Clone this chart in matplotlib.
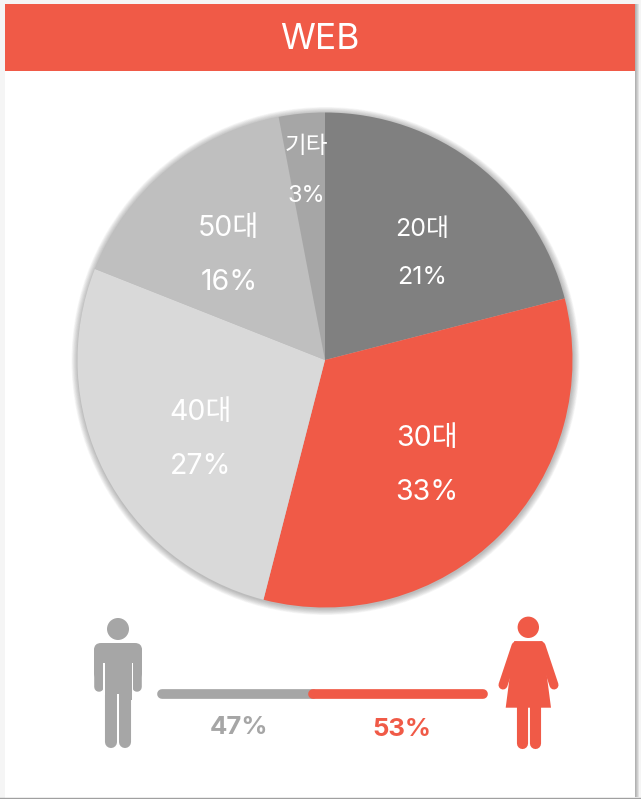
import matplotlib
matplotlib.use("Agg")
import matplotlib.pyplot as plt
from matplotlib.patches import Rectangle, Circle, FancyBboxPatch, Polygon

plt.rcParams['font.family'] = ['Inter', 'Noto Sans CJK KR', 'DejaVu Sans']

title = "WEB"
age_labels = ["20대", "30대", "40대", "50대", "기타"]
age_values = [21, 33, 27, 16, 3]
age_colors = ["#808080", "#F05A47", "#D9D9D9", "#BFBFBF", "#A6A6A6"]
gender_values = [47, 53]
gender_colors = ["#A6A6A6", "#F05A47"]

W, H = 641, 799
fig = plt.figure(figsize=(W / 100, H / 100), dpi=100, facecolor="#F5F5F5")
ax = fig.add_axes([0, 0, 1, 1])
Y = lambda p: H - p

# card + header
for i in range(4):
    ax.add_patch(Rectangle((635, Y(797)), 1 + i, 793, color="#555555", alpha=0.12, lw=0, zorder=0))
ax.add_patch(Rectangle((5, Y(798)), 630, 794, color="white", lw=0, zorder=1))
ax.plot([0, W], [Y(798), Y(798)], color="#A0A0A0", lw=1, zorder=1)
ax.add_patch(Rectangle((5, Y(71)), 630, 67, color="#F05A47", lw=0, zorder=2))
ax.text(320, Y(39.5), title, color="white", fontsize=25.5, ha="center", va="center", zorder=3)

# pie
cx, cy, R = 325, Y(360), 247.5
for i in range(10, 0, -1):
    ax.add_patch(Circle((cx + 0.5, cy - 1), R + i * 0.65, color="#303030", alpha=0.035, lw=0, zorder=2))
wedges, _ = ax.pie(age_values, colors=age_colors, startangle=90, counterclock=False,
                   center=(cx, cy), radius=R, wedgeprops={"lw": 0, "zorder": 3})
for w in wedges:
    w.set_zorder(3)

label_pos = [(422, 230, 278, 18), (427, 439, 492, 20.5), (201, 413, 466, 20.5),
             (229, 228, 282, 20.5), (306, 147, 196, 17)]
for (lab, val, (x, y1, y2, fs)) in zip(age_labels, age_values, label_pos):
    ax.text(x, Y(y1), lab, color="white", fontsize=fs, ha="center", va="center", zorder=5)
    ax.text(x, Y(y2), f"{val}%", color="white", fontsize=fs, ha="center", va="center", zorder=5)

# gender bar
x0, x1 = 162, 483
split = x0 + (x1 - x0) * gender_values[0] / sum(gender_values)
ax.plot([x0, split], [Y(694)] * 2, color=gender_colors[0], lw=7, solid_capstyle="round", zorder=3)
ax.plot([split, x1], [Y(694)] * 2, color=gender_colors[1], lw=7, solid_capstyle="round", zorder=4)
ax.text(239, Y(728), f"{gender_values[0]}%", color=gender_colors[0], fontsize=18.5, fontweight="bold", ha="center", va="center")
ax.text(402, Y(730), f"{gender_values[1]}%", color=gender_colors[1], fontsize=18.5, fontweight="bold", ha="center", va="center")


def rbox(x1_, y1_, x2_, y2_, r, color):
    ax.add_patch(FancyBboxPatch((x1_ + r, Y(y2_) + r), x2_ - x1_ - 2 * r, y2_ - y1_ - 2 * r,
                                boxstyle=f"round,pad={r}", color=color, lw=0, zorder=3))


def limb(p, q, color, lw=6.5):
    ax.plot([p[0], q[0]], [Y(p[1]), Y(q[1])], color=color, lw=lw, solid_capstyle="round", zorder=3)


# man
c = gender_colors[0]
ax.add_patch(Circle((118, Y(629)), 11, color=c, lw=0, zorder=3))
rbox(94, 643, 142, 680, 7, c)
ax.add_patch(Rectangle((104.5, Y(700)), 27, 50, color=c, lw=0, zorder=3))
limb((98.8, 650), (98.8, 686.5), c, 6.9)
limb((137.2, 650), (137.2, 686.5), c, 6.9)
limb((110.5, 690), (110.5, 742), c, 8.7)
limb((125.2, 690), (125.2, 742), c, 8.7)
ax.add_patch(Rectangle((116.7, Y(748)), 2.6, 54, color="white", lw=0, zorder=4))
ax.add_patch(Rectangle((103.4, Y(695)), 1.1, 32, color="white", lw=0, zorder=4))
ax.add_patch(Rectangle((131.5, Y(695)), 1.1, 32, color="white", lw=0, zorder=4))

# woman
c = gender_colors[1]
ax.add_patch(Circle((528.3, Y(627.3)), 10.7, color=c, lw=0, zorder=3))
ax.add_patch(Polygon([(514.3, Y(641.3)), (542.3, Y(641.3)), (551, Y(707.7)), (505.7, Y(707.7))],
                     color=c, lw=0, zorder=3))
ax.add_patch(Polygon([(514.3, Y(641.3)), (542.3, Y(641.3)), (546.5, Y(664)), (510, Y(664))],
                     color=c, lw=0, zorder=3))
limb((516, 646), (503, 685), c, 6.5)
limb((541, 646), (554, 685), c, 6.5)
limb((521.6, 705), (521.6, 743), c, 8)
limb((535.3, 705), (535.3, 743), c, 8)

ax.set_xlim(0, W)
ax.set_ylim(0, H)
ax.set_aspect("auto")
ax.axis("off")
fig.savefig("out.png", dpi=100, facecolor=fig.get_facecolor())
